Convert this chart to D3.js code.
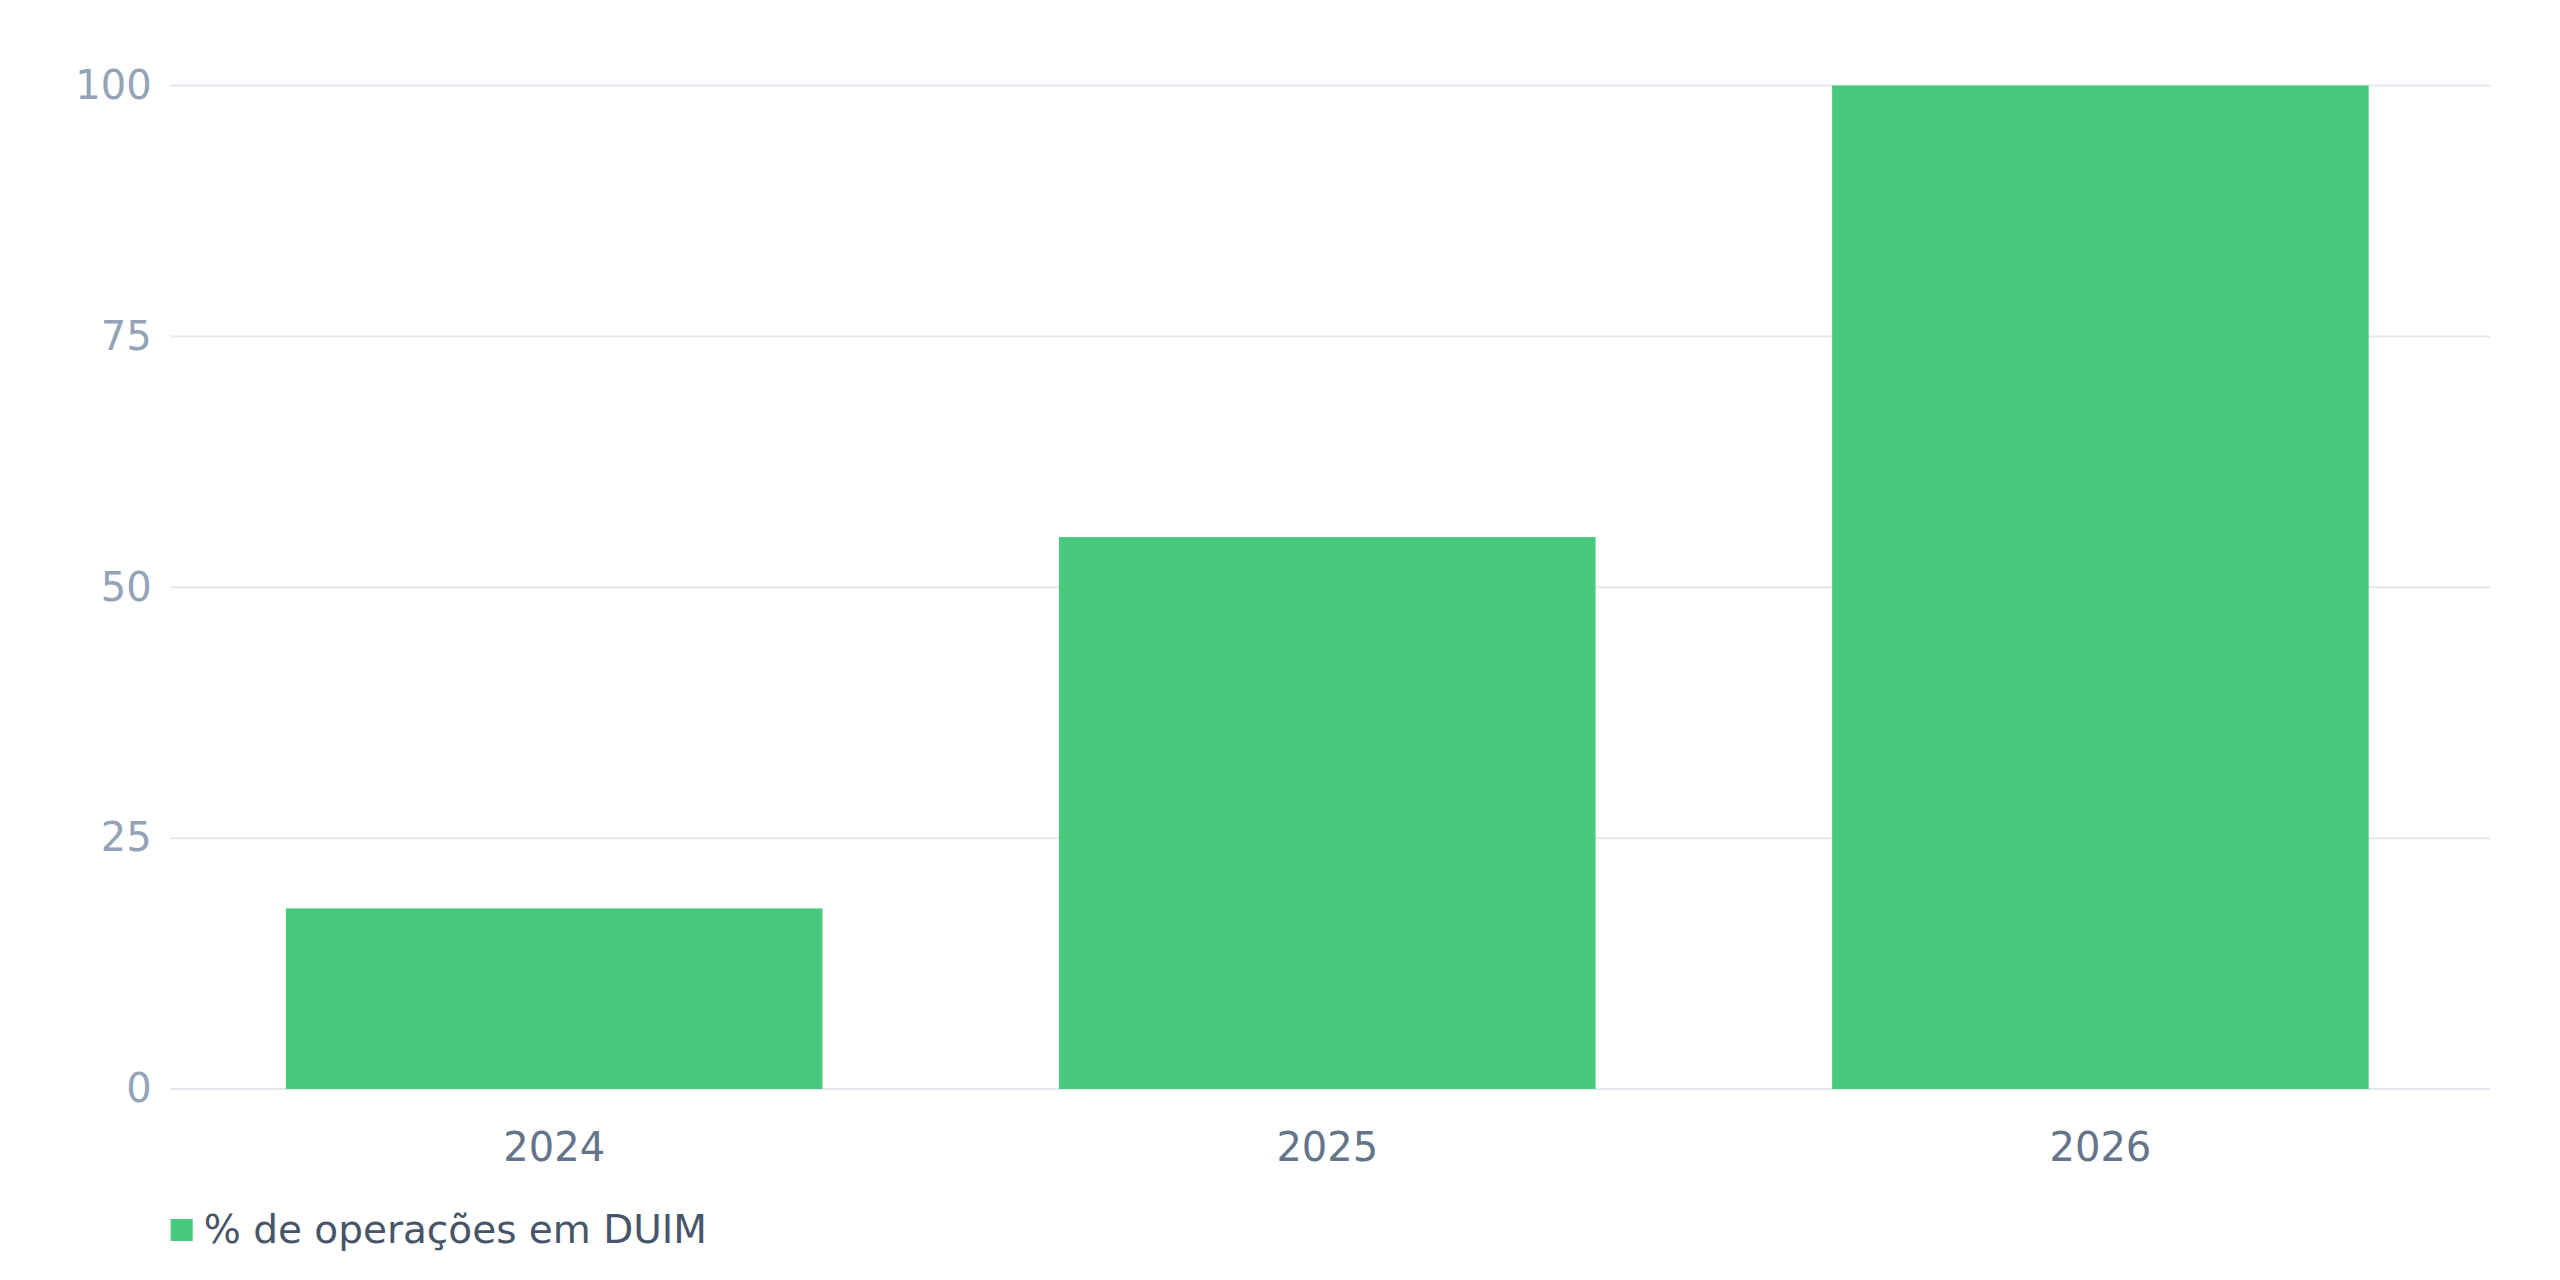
<!DOCTYPE html>
<html>
<head>
<meta charset="utf-8">
<script src="https://cdn.jsdelivr.net/npm/d3@7"></script>
<style>
  html, body { margin: 0; padding: 0; background: #ffffff; }
  svg { display: block; font-family: "DejaVu Sans", sans-serif; }
</style>
</head>
<body>
<svg id="chart" width="2560" height="1280"></svg>
<script>
const years = ["2024", "2025", "2026"];
const duimShare = [18, 55, 100];
const yTicks = [0, 25, 50, 75, 100];
const seriesName = "% de operações em DUIM";

const data = years.map((y, i) => ({year: y, value: duimShare[i]}));

const svgWidth = 2560, svgHeight = 1280;
const margin = {top: 85.5, right: 70, bottom: 191, left: 170.7};
const width = svgWidth - margin.left - margin.right,
    height = svgHeight - margin.top - margin.bottom;

const svg = d3.select("#chart");
const g = svg.append("g")
    .attr("transform", "translate(" + margin.left + "," + margin.top + ")");

// scales
const x = d3.scaleBand()
    .domain(years)
    .range([0, width])
    .paddingInner(0.306)
    .paddingOuter(0.153)
    .align(0.487);

const y = d3.scaleLinear()
    .domain([0, 100])
    .range([height, 0]);

// grid
g.append("g")
    .selectAll("line")
    .data(yTicks)
    .join("line")
    .attr("x1", 0)
    .attr("x2", width)
    .attr("y1", d => y(d))
    .attr("y2", d => y(d))
    .attr("stroke", "#e2e8f0")
    .attr("stroke-width", 2);

// y labels
const yAxis = g.append("g")
    .call(d3.axisLeft(y).tickValues(yTicks).tickSize(0).tickPadding(19));
yAxis.select(".domain").remove();
yAxis.selectAll("text")
    .attr("fill", "#94a3b8")
    .style("font-size", "40px")
    .style("font-family", "DejaVu Sans");

// bars
g.append("g")
    .selectAll("rect")
    .data(data)
    .join("rect")
    .attr("x", d => x(d.year))
    .attr("y", d => y(d.value))
    .attr("width", x.bandwidth())
    .attr("height", d => y(0) - y(d.value))
    .attr("fill", "#47c97e");

// x labels
const xAxis = g.append("g")
    .attr("transform", "translate(0," + height + ")")
    .call(d3.axisBottom(x).tickSize(0).tickPadding(44));
xAxis.select(".domain").remove();
xAxis.selectAll("text")
    .attr("fill", "#64748b")
    .style("font-size", "40px")
    .style("font-family", "DejaVu Sans");

// legend
const legend = svg.append("g")
    .attr("transform", "translate(" + margin.left + ",1219)");
legend.append("rect")
    .attr("width", 22)
    .attr("height", 22)
    .attr("fill", "#47c97e");
legend.append("text")
    .attr("x", 33)
    .attr("y", 24)
    .attr("fill", "#475569")
    .style("font-size", "39px")
    .text(seriesName);
</script>
</body>
</html>
